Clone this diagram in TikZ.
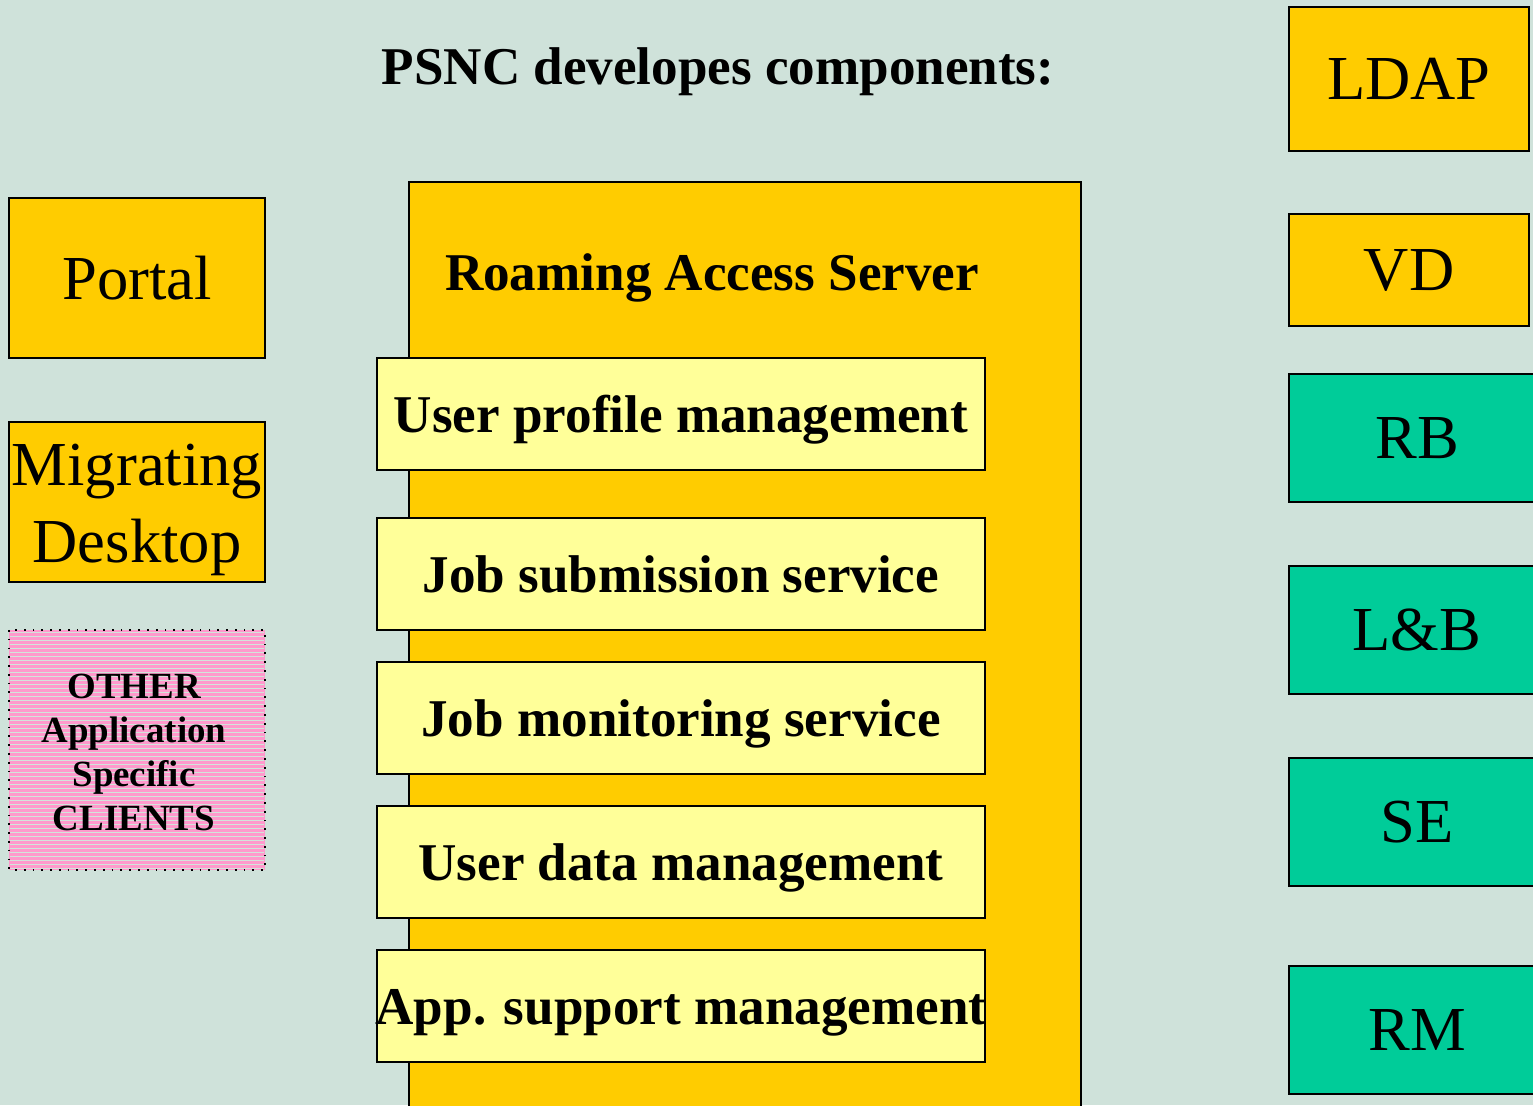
\documentclass[tikz,border=0pt]{standalone}
\usepackage{fontspec}
\setmainfont{Liberation Serif}
\usepackage{tikz}
\usetikzlibrary{positioning}
\definecolor{bgcol}{RGB}{207,226,218}
\definecolor{gold}{RGB}{255,204,0}
\definecolor{paleyellow}{RGB}{255,255,153}
\definecolor{seagreen}{RGB}{0,204,153}
\definecolor{pinkish}{RGB}{255,153,204}
\definecolor{stripecol}{RGB}{210,228,218}
\newcommand{\biglab}{\fontsize{17.8}{22}\selectfont}
\newcommand{\boldlab}{\fontsize{15.1}{18}\selectfont\bfseries}
\newcommand{\smalllab}{\fontsize{10.5}{12.5}\selectfont\bfseries}
\tikzset{
  box/.style={draw=black, line width=0.5pt, inner sep=0pt, outer sep=0pt},
  goldbox/.style={box, fill=gold, font=\biglab},
  greenbox/.style={box, fill=seagreen, font=\biglab},
  servicebox/.style={box, fill=paleyellow, font=\boldlab, minimum width=6.08cm, minimum height=1.12cm,
    text height=0.42cm, text depth=0.05cm},
  stripe/.style={draw=stripecol, line width=0.22pt}
}

\begin{document}
\begin{tikzpicture}[x=0.01cm,y=-0.01cm]
  \useasboundingbox (0,0) rectangle (1533,1105);
  \fill[bgcol] (0,0) rectangle (1533,1105);
  \clip (0,0) rectangle (1533,1105);

  %title
  \node[font=\boldlab] (title) at (718,72) {PSNC developes components:};

  %clients on the left
  \node[goldbox, minimum width=2.56cm, minimum height=1.60cm] (portal) at (137,278) {Portal};
  \node[goldbox, minimum width=2.56cm, minimum height=1.60cm] (md) at (137,502) {};
  \node[font=\biglab, align=center] (mdlab) at (137,510) {Migrating\\Desktop};
  \node[box, draw=none, fill=pinkish, minimum width=2.56cm, minimum height=2.40cm] (other) at (137,750) {};
  %stripes
  \foreach \y in {632,636,...,868}
    \draw[stripe] (10,\y) -- (264,\y);
  \draw[black, line width=0.5pt, dotted] (other.north west) rectangle (other.south east);
  \node[font=\smalllab, align=center] (otherlab) at (134,752) {OTHER\\Application\\Specific\\CLIENTS};

  %roaming access server
  \node[goldbox, minimum width=6.72cm, minimum height=9.40cm] (ras) at (745,652) {};
  \node[font=\boldlab] (rastitle) at (712,278) {Roaming Access Server};
  \node[servicebox] (ups) at (681,414) {User profile management};
  \node[servicebox] (jss) at (681,574) {Job submission service};
  \node[servicebox] (jms) at (681,718) {Job monitoring service};
  \node[servicebox] (udm) at (681,862) {User data management};
  \node[servicebox] (asm) at (681,1006) {\makebox[5.9cm][c]{App. support management}};

  %components on the right
  \node[goldbox, minimum width=2.40cm, minimum height=1.44cm] (ldap) at (1409,79) {LDAP};
  \node[goldbox, minimum width=2.40cm, minimum height=1.12cm] (vd) at (1409,270) {VD};
  \node[greenbox, minimum width=2.56cm, minimum height=1.28cm] (rb) at (1417,438) {RB};
  \node[greenbox, minimum width=2.56cm, minimum height=1.28cm] (lb) at (1417,630) {L\&B};
  \node[greenbox, minimum width=2.56cm, minimum height=1.28cm] (se) at (1417,822) {SE};
  \node[greenbox, minimum width=2.56cm, minimum height=1.28cm] (rm) at (1417,1030) {RM};
\end{tikzpicture}
\end{document}
